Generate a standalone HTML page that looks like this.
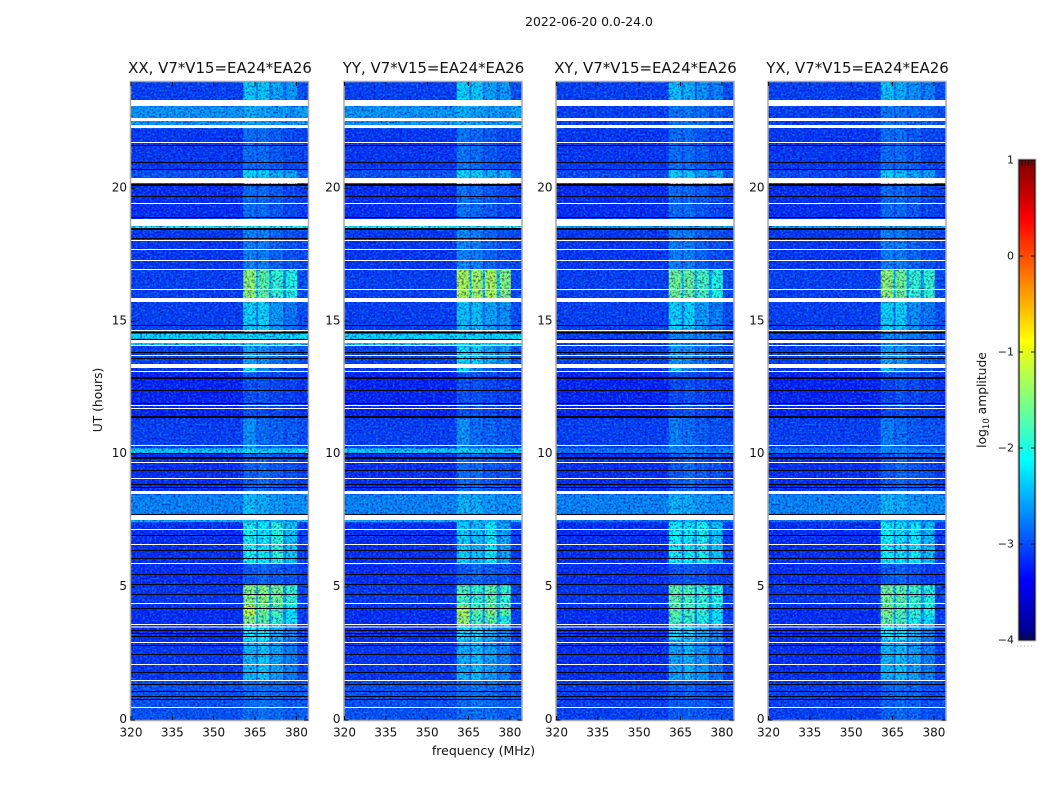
<!DOCTYPE html>
<html lang="en">
<head>
<meta charset="utf-8">
<title>2022-06-20 0.0-24.0</title>
<style>
html,body{margin:0;padding:0;background:#fff;width:1050px;height:800px;overflow:hidden}
svg{display:block;font-family:"DejaVu Sans","Liberation Sans",sans-serif;fill:#111}
</style>
</head>
<body>
<svg id="chart" width="1050" height="800" viewBox="0 0 1050 800" xmlns="http://www.w3.org/2000/svg">
  <defs>
    <filter id="speckle-dark" x="0" y="0" width="100%" height="100%" color-interpolation-filters="sRGB">
      <feTurbulence type="fractalNoise" baseFrequency="0.42 0.5" numOctaves="2" seed="4"/>
      <feColorMatrix type="matrix" values="0 0 0 0 0.45  0 0 0 0 0.4  0 0 0 0 0.75  3.4 0 0 0 -1.5"/>
    </filter>
    <filter id="speckle-light" x="0" y="0" width="100%" height="100%" color-interpolation-filters="sRGB">
      <feTurbulence type="fractalNoise" baseFrequency="0.42 0.5" numOctaves="2" seed="11"/>
      <feColorMatrix type="matrix" values="0 0 0 0 0.05  0 0 0 0 0.28  0 0 0 0 0.1  3.4 0 0 0 -1.5"/>
    </filter>
    <linearGradient id="colorbar-gradient" x1="0" y1="1" x2="0" y2="0"></linearGradient>
  </defs>
  <text x="589" y="26" font-size="12.4" text-anchor="middle">2022-06-20 0.0-24.0</text>
  <text x="483.500" y="755" font-size="12.5" text-anchor="middle">frequency (MHz)</text>
  <text transform="translate(102 400) rotate(-90)" font-size="12.3" text-anchor="middle">UT (hours)</text>
  <text transform="translate(986 400) rotate(-90)" font-size="12.3" text-anchor="middle">log<tspan font-size="8.5" dy="3">10</tspan><tspan dy="-3"> amplitude</tspan></text>
</svg>
<script>
// ---------- data ----------
const panelTitles = ["XX, V7*V15=EA24*EA26", "YY, V7*V15=EA24*EA26", "XY, V7*V15=EA24*EA26", "YX, V7*V15=EA24*EA26"];
const xTickLabels = [320, 335, 350, 365, 380];
const yTickLabels = [0, 5, 10, 15, 20];
const colorbarTickLabels = [1, 0, -1, -2, -3, -4];
// frequency band edges in MHz: background, window 1, gap, window 2, gap, window 3, gap, window 4, band edge
const freqEdges = [320, 360.7, 365.4, 366.1, 370.1, 370.9, 375.2, 376.3, 380.3, 384.2];
// time band edges in hours
const hourEdges = [0, 1.5, 3, 3.54, 3.95, 4.33, 5.08, 5.91, 7.45, 7.52, 8.5, 10.05, 10.23, 11.36, 13.09, 13.32, 14.11, 14.56, 15.73, 16.97, 18.44, 18.59, 20.17, 20.39, 20.69, 22.27, 23.1, 24];
// log10 amplitude of the out-of-window background per time band
const backgroundParallel = [-3,-3.15,-3.2,-3.2,-3.2,-3.15,-3.2,-3.2,-2.45,-2.72,-3.2,-2.35,-3.1,-3.25,-3.15,-3.1,-2.3,-3.1,-3.1,-3.15,-2.05,-3.2,-3,-3,-3.15,-2.62,-3.1];
const backgroundCross = [-3.1,-3.2,-3.2,-3.2,-3.2,-3.15,-3.2,-3.2,-2.85,-2.72,-3.2,-2.8,-3.1,-3.25,-3.15,-3.1,-3.1,-3.1,-3.1,-3.15,-2.55,-3.2,-3.05,-3.05,-3.15,-3.1,-3.1];
// log10 amplitude of the four bright windows per time band
const windowsXX = [[-2.85,-2.8,-2.85,-2.95],[-2.45,-2.35,-2.55,-2.75],[-2.15,-2.15,-2.5,-2.7],[-1.5,-1.7,-1.9,-2.2],[-1.2,-1.6,-1.8,-2.2],[-1.5,-1.5,-1.6,-1.9],[-2.95,-2.85,-2.95,-3],[-2.05,-2.15,-1.95,-2.35],[-2.45,-2.35,-2.45,-2.65],[-2.4,-2.5,-2.6,-2.65],[-2.9,-2.85,-2.95,-3],[-2.25,-2.3,-2.35,-2.35],[-2.65,-2.85,-2.9,-2.95],[-3,-3,-3.05,-3.1],[-2.15,-2.7,-2.9,-3],[-2.55,-2.65,-2.8,-2.9],[-2.25,-2.25,-2.3,-2.3],[-2.3,-2.3,-2.6,-2.8],[-1.45,-1.7,-1.9,-2],[-2.75,-2.75,-2.9,-3],[-2.05,-2.05,-2.05,-2.05],[-2.85,-2.85,-2.95,-3.05],[-1.25,-1.3,-1.4,-1.3],[-2.25,-2.3,-2.5,-2.5],[-2.85,-2.85,-2.95,-3.05],[-2.5,-2.55,-2.6,-2.65],[-2.35,-2.35,-2.55,-2.6]];
const windowsYY = [[-2.85,-2.8,-2.85,-2.95],[-2.5,-2.4,-2.55,-2.75],[-2.25,-2.25,-2.5,-2.7],[-1.4,-1.8,-1.7,-2],[-1.3,-1.7,-1.5,-1.7],[-1.8,-1.9,-1.7,-1.9],[-2.95,-2.85,-2.95,-3],[-2.3,-2.4,-2.15,-2.55],[-2.55,-2.45,-2.45,-2.65],[-2.45,-2.5,-2.6,-2.65],[-2.85,-2.85,-2.95,-3],[-2.25,-2.3,-2.35,-2.35],[-2.65,-2.85,-2.9,-2.95],[-3,-3,-3.05,-3.1],[-2.25,-2.7,-2.9,-3],[-2.25,-2.3,-2.5,-2.6],[-2.25,-2.25,-2.3,-2.3],[-2.4,-2.4,-2.55,-2.65],[-1.3,-1.35,-1.3,-1.5],[-2.7,-2.75,-2.9,-3],[-2.05,-2.05,-2.05,-2.05],[-2.8,-2.85,-2.95,-3.05],[-1.2,-1.25,-1.35,-1.3],[-2.25,-2.3,-2.5,-2.5],[-2.8,-2.85,-2.95,-3.05],[-2.5,-2.55,-2.6,-2.65],[-2.3,-2.35,-2.55,-2.6]];
const windowsXY = [[-2.95,-2.9,-2.95,-3.05],[-2.55,-2.45,-2.6,-2.8],[-2.25,-2.25,-2.5,-2.7],[-1.8,-1.9,-2,-2.2],[-1.7,-1.8,-1.9,-2.2],[-1.7,-1.8,-1.9,-2],[-3,-2.95,-3,-3.1],[-2.1,-2.15,-2.05,-2.35],[-2.55,-2.45,-2.55,-2.75],[-2.45,-2.5,-2.6,-2.65],[-2.95,-2.85,-2.95,-3],[-2.7,-2.7,-2.75,-2.8],[-2.75,-2.85,-2.95,-3],[-3.05,-3,-3.05,-3.1],[-2.4,-2.7,-2.9,-3],[-2.6,-2.65,-2.8,-2.9],[-2.7,-2.7,-2.75,-2.8],[-2.3,-2.3,-2.6,-2.75],[-1.6,-1.65,-1.8,-2],[-2.75,-2.75,-2.9,-3],[-2.55,-2.55,-2.55,-2.55],[-2.85,-2.85,-2.95,-3.05],[-1.35,-1.4,-1.5,-1.4],[-2.3,-2.35,-2.55,-2.55],[-2.85,-2.85,-2.95,-3.05],[-2.8,-2.8,-2.85,-2.9],[-2.4,-2.5,-2.65,-2.75]];
const windowsYX = [[-2.9,-2.85,-2.9,-3],[-2.45,-2.4,-2.55,-2.75],[-2.15,-2.2,-2.5,-2.7],[-1.65,-1.8,-2,-2.2],[-1.55,-1.75,-1.9,-2],[-1.6,-1.7,-1.85,-2],[-2.95,-2.9,-3,-3.1],[-2.1,-2.2,-2.15,-2.4],[-2.5,-2.45,-2.55,-2.7],[-2.45,-2.5,-2.6,-2.65],[-2.95,-2.85,-2.95,-3],[-2.7,-2.7,-2.75,-2.8],[-2.75,-2.85,-2.95,-3],[-3.05,-3,-3.05,-3.1],[-2.4,-2.7,-2.9,-3],[-2.55,-2.6,-2.8,-2.9],[-2.7,-2.7,-2.75,-2.8],[-2.3,-2.3,-2.65,-2.8],[-1.45,-1.6,-1.9,-1.9],[-2.75,-2.75,-2.9,-3],[-2.55,-2.55,-2.55,-2.55],[-2.85,-2.85,-2.95,-3.05],[-1.35,-1.4,-1.5,-1.4],[-2.3,-2.35,-2.55,-2.55],[-2.85,-2.85,-2.95,-3.05],[-2.8,-2.8,-2.85,-2.9],[-2.4,-2.5,-2.65,-2.75]];
// flagged (blank) integrations, hour ranges
const blankHours = [[0.45,0.49],[1.47,1.505],[2.07,2.11],[2.9,2.935],[3.49,3.525],[3.575,3.61],[4.36,4.4],[5.87,5.91],[6.58,6.62],[7.15,7.19],[7.52,7.71],[8.5,8.62],[9.07,9.1],[9.67,9.71],[10.31,10.35],[11.7,11.74],[11.81,11.85],[13.09,13.13],[13.24,13.39],[13.69,13.73],[14.07,14.11],[14.18,14.3],[14.64,14.67],[15.73,15.88],[16.18,16.22],[16.93,16.97],[17.27,17.31],[17.68,17.72],[18.02,18.06],[18.59,18.85],[19.41,19.45],[20.2,20.39],[21.71,21.75],[22.27,22.39],[22.54,22.65],[23.1,23.33]];
// near-zero amplitude integrations, hour ranges
const darkHours = [[0.75,0.79],[0.87,0.9],[1.05,1.09],[1.32,1.35],[1.77,1.81],[2.45,2.48],[2.78,2.82],[3.12,3.16],[3.24,3.27],[3.35,3.39],[4.18,4.21],[4.7,4.74],[5.08,5.12],[5.46,5.49],[6.06,6.09],[6.36,6.4],[6.92,6.96],[7.71,7.75],[8.73,8.77],[8.84,8.88],[9.37,9.41],[9.82,9.89],[10,10.04],[11.36,11.44],[11.89,11.93],[12.38,12.42],[12.83,12.9],[13.58,13.62],[13.81,13.85],[14.3,14.33],[14.54,14.6],[14.82,14.86],[18.1,18.13],[18.44,18.51],[18.89,18.93],[19.68,19.71],[20.09,20.17],[20.69,20.73],[20.96,20.99],[21.6,21.63]];

// ---------- layout ----------
const NS = "http://www.w3.org/2000/svg";
const svg = document.getElementById("chart");
const panelLefts = [131, 344.5, 556.5, 768.5];
const panelWidth = 177;
const plotTop = 82, plotBottom = 720;
const freqMin = 320, freqMax = 384.2, hourMin = 0, hourMax = 24;
const cbarX = 1019, cbarW = 16, cbarTop = 160, cbarBottom = 640, cbarMin = -4, cbarMax = 1;

function xScale(left, f) { return left + (f - freqMin) / (freqMax - freqMin) * panelWidth; }
function yScale(h) { return plotBottom - (h - hourMin) / (hourMax - hourMin) * (plotBottom - plotTop); }
function cbarScale(v) { return cbarBottom - (v - cbarMin) / (cbarMax - cbarMin) * (cbarBottom - cbarTop); }
function clamp01(v) { return Math.max(0, Math.min(1, v)); }
function jet(level) {
  const t = clamp01((level - cbarMin) / (cbarMax - cbarMin));
  const r = clamp01(Math.min(4 * t - 1.5, -4 * t + 4.5));
  const g = clamp01(Math.min(4 * t - 0.5, -4 * t + 3.5));
  const b = clamp01(Math.min(4 * t + 0.5, -4 * t + 2.5));
  return "rgb(" + Math.round(r * 255) + "," + Math.round(g * 255) + "," + Math.round(b * 255) + ")";
}
function make(tag, parent, attrs) {
  const el = document.createElementNS(NS, tag);
  for (const k in attrs) el.setAttribute(k, attrs[k]);
  parent.appendChild(el);
  return el;
}
// level for one frequency column within a time band
function cellLevel(bg, win, col) {
  if (col === 0) return bg;
  if (col === 8) return bg + 0.08;
  if (col % 2 === 1) return win[(col - 1) / 2];
  const neighbour = Math.max(win[col / 2 - 1], win[col / 2]);
  return bg + (neighbour - bg) * 0.4;
}

const panelWindows = [windowsXX, windowsYY, windowsXY, windowsYX];
const panelBackgrounds = [backgroundParallel, backgroundParallel, backgroundCross, backgroundCross];

panelLefts.forEach(function (left, p) {
  const g = make("g", svg, {});
  
  

  // heatmap cells
  for (let b = 0; b < hourEdges.length - 1; b++) {
    for (let c = 0; c < freqEdges.length - 1; c++) {
      const x0 = xScale(left, freqEdges[c]), x1 = xScale(left, freqEdges[c + 1]);
      const y0 = yScale(hourEdges[b + 1]), y1 = yScale(hourEdges[b]);
      const cell = make("rect", g, { x: x0, y: y0, width: x1 - x0 + 0.3, height: y1 - y0 + 0.3, fill: jet(cellLevel(panelBackgrounds[p][b], panelWindows[p][b], c)) });
      
      
    }
  }
  // visual-only receiver-noise speckle
  const darkNoise = make("rect", g, { x: left, y: plotTop, width: panelWidth, height: plotBottom - plotTop, filter: "url(#speckle-dark)", style: "mix-blend-mode:multiply" });
  
  
  const lightNoise = make("rect", g, { x: left, y: plotTop, width: panelWidth, height: plotBottom - plotTop, filter: "url(#speckle-light)", style: "mix-blend-mode:screen" });
  
  

  // flagged rows
  darkHours.forEach(function (r) {
    const row = make("rect", g, { x: left, y: yScale(r[1]), width: panelWidth, height: Math.max(1, yScale(r[0]) - yScale(r[1])), fill: "#000010", "shape-rendering": "crispEdges" });
    
    
  });
  blankHours.forEach(function (r) {
    const row = make("rect", g, { x: left, y: yScale(r[1]), width: panelWidth, height: Math.max(1, yScale(r[0]) - yScale(r[1])), fill: "#ffffff", "shape-rendering": "crispEdges" });
    
    
  });

  // frame
  const frame = make("rect", g, { x: left - 0.5, y: plotTop - 0.5, width: panelWidth + 1, height: plotBottom - plotTop + 1, fill: "none", stroke: "#a8a8a8", "stroke-width": 1.5 });
  
  

  // title
  const title = make("text", g, { x: left + panelWidth / 2 + 0.5, y: 73, "font-size": 14.95, "text-anchor": "middle" });
  title.textContent = panelTitles[p];
  
  

  // x ticks
  xTickLabels.forEach(function (f) {
    const x = xScale(left, f);
    const tickB = make("line", g, { x1: x, x2: x, y1: plotBottom, y2: plotBottom - 4, stroke: "#111", "stroke-width": 1 });
    
    
    const tickT = make("line", g, { x1: x, x2: x, y1: plotTop, y2: plotTop + 4, stroke: "#111", "stroke-width": 1 });
    
    
    const lab = make("text", g, { x: x, y: 736.5, "font-size": 12, "text-anchor": "middle" });
    lab.textContent = f;
    
    
  });
  // y ticks
  yTickLabels.forEach(function (h) {
    const y = yScale(h);
    const tickL = make("line", g, { x1: left, x2: left + 4, y1: y, y2: y, stroke: "#111", "stroke-width": 1 });
    
    
    const tickR = make("line", g, { x1: left + panelWidth, x2: left + panelWidth - 4, y1: y, y2: y, stroke: "#111", "stroke-width": 1 });
    
    
    const lab = make("text", g, { x: left - 4, y: y + 3, "font-size": 12, "text-anchor": "end" });
    lab.textContent = h;
    
    
  });
});

// ---------- colorbar ----------
const cbarGroup = make("g", svg, {});


const gradient = document.getElementById("colorbar-gradient");
for (let i = 0; i <= 32; i++) {
  make("stop", gradient, { offset: (i / 32), "stop-color": jet(cbarMin + (cbarMax - cbarMin) * i / 32) });
}
const bar = make("rect", cbarGroup, { x: cbarX, y: cbarTop, width: cbarW, height: cbarBottom - cbarTop, fill: "url(#colorbar-gradient)", stroke: "#111", "stroke-width": 1.2 });


const barFrame = make("rect", cbarGroup, { x: cbarX - 1, y: cbarTop - 1, width: cbarW + 2, height: cbarBottom - cbarTop + 2, fill: "none", stroke: "#c4c4c4", "stroke-width": 1 });


colorbarTickLabels.forEach(function (v) {
  const y = cbarScale(v);
  const tickL = make("line", cbarGroup, { x1: cbarX, x2: cbarX + 4, y1: y, y2: y, stroke: "#111", "stroke-width": 1 });
  
  
  const tickR = make("line", cbarGroup, { x1: cbarX + cbarW, x2: cbarX + cbarW - 4, y1: y, y2: y, stroke: "#111", "stroke-width": 1 });
  
  
  const lab = make("text", cbarGroup, { x: cbarX - 5, y: y + 3.5, "font-size": 11, "text-anchor": "end" });
  lab.textContent = v < 0 ? "\u2212" + Math.abs(v) : String(v);
  
  
});
// minor ticks at both ends of the colorbar
for (let i = 1; i <= 4; i++) {
  const x = cbarX + i * cbarW / 5;
  const top = make("line", cbarGroup, { x1: x, x2: x, y1: cbarTop, y2: cbarTop + 6, stroke: "#111", "stroke-width": 1 });
  
  
  const bottom = make("line", cbarGroup, { x1: x, x2: x, y1: cbarBottom, y2: cbarBottom - 6, stroke: "#111", "stroke-width": 1 });
  
  
}
const dots = make("line", cbarGroup, { x1: 1017, x2: 1035, y1: 646, y2: 646, stroke: "#aaa", "stroke-width": 1, "stroke-dasharray": "1 2.5" });


</script>
</body>
</html>
